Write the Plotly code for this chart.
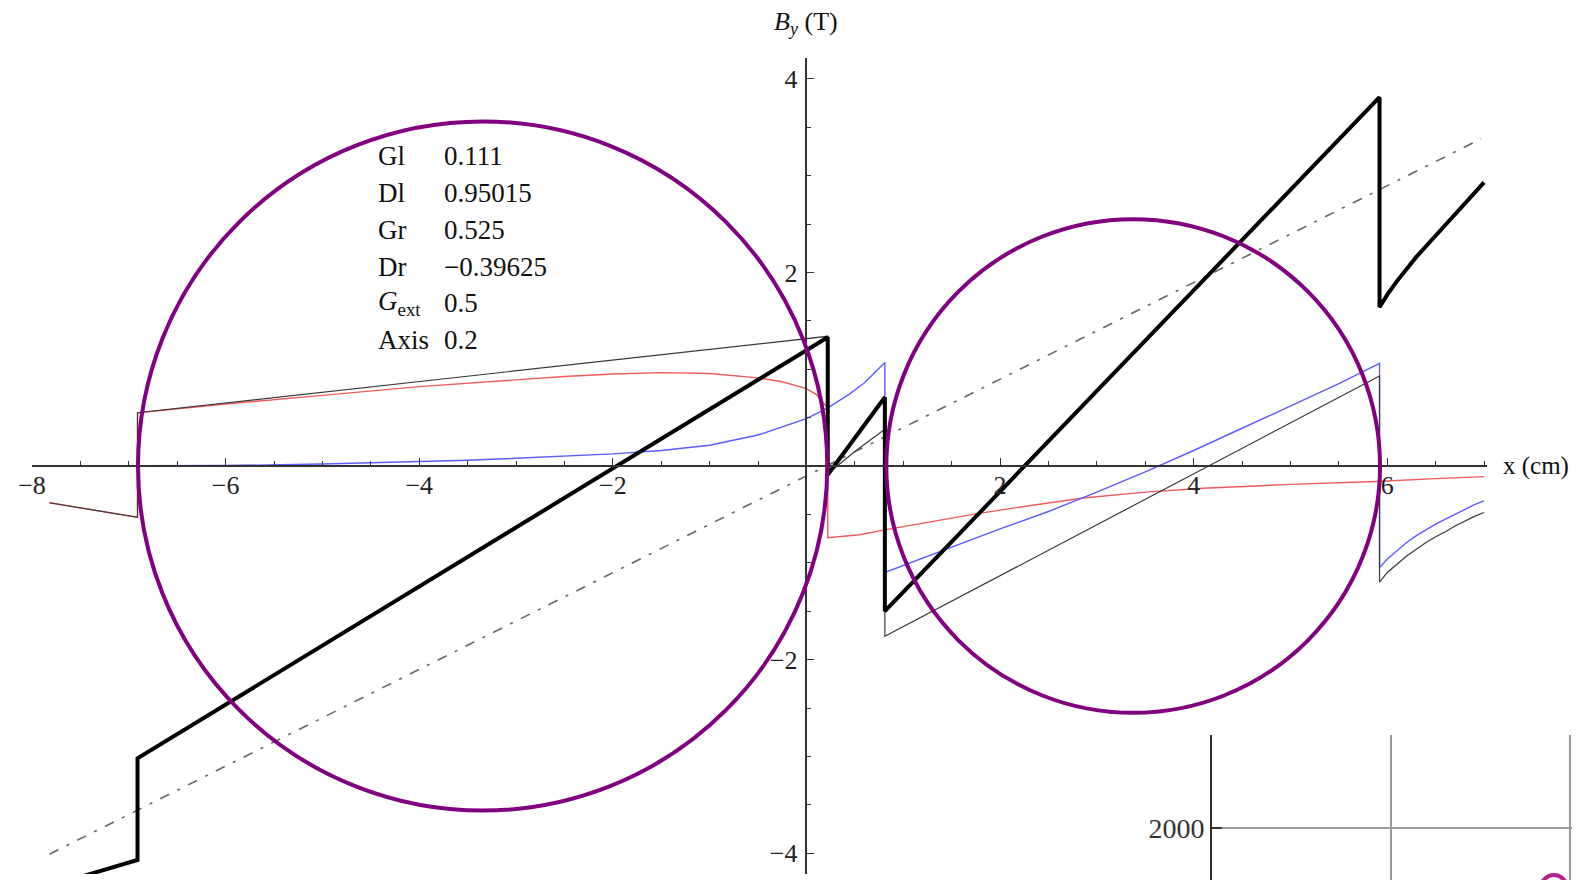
import plotly.graph_objects as go

# ---------------- data ----------------
# thick black curve: B_y total
x_thick = [-7.82, -6.91, -6.91, 0.22, 0.22, 0.81, 0.81, 5.92, 5.92,
           6.0, 6.1, 6.2, 6.3, 6.4, 6.5, 6.6, 6.7, 6.8, 6.9, 7.0]
y_thick = [-4.34, -4.07, -3.02, 1.33, -0.09, 0.71, -1.50, 3.81, 1.64,
           1.77, 1.91, 2.04, 2.16, 2.27, 2.38, 2.49, 2.60, 2.71, 2.82, 2.93]

# thin black curve
x_thin = [-7.82, -6.91, -6.91, 0.22, 0.22, 0.5, 0.81, 0.81, 5.92, 5.92,
          6.0, 6.1, 6.2, 6.3, 6.4, 6.5, 6.6, 6.7, 6.8, 6.9, 7.0]
y_thin = [-0.38, -0.53, 0.55, 1.34, -0.08, 0.15, 0.38, -1.76, 0.93, -1.20,
          -1.10, -1.01, -0.93, -0.86, -0.79, -0.73, -0.68, -0.62, -0.57, -0.52, -0.48]

# thin red curve
x_red = [-7.82, -6.91, -6.91, -6.0, -5.0, -4.0, -3.0, -2.5, -2.0, -1.5, -1.0, -0.5, -0.25, 0.0, 0.1, 0.22,
         0.22, 0.55, 0.81, 1.2, 1.72, 2.3, 2.86, 3.5, 4.1, 5.0, 5.88, 6.5, 7.0]
y_red = [-0.38, -0.53, 0.55, 0.64, 0.73, 0.82, 0.89, 0.925, 0.95, 0.965, 0.955, 0.91, 0.87, 0.80, 0.74, 0.60,
         -0.74, -0.71, -0.66, -0.59, -0.50, -0.41, -0.33, -0.27, -0.23, -0.19, -0.16, -0.13, -0.11]

# thin blue curve
x_blue = [-7.82, -7.0, -6.0, -5.0, -4.0, -3.5, -3.0, -2.5, -2.0, -1.5, -1.0, -0.5, 0.0, 0.22,
          0.44, 0.6, 0.81, 0.81, 1.5, 2.0, 2.5, 3.0, 3.5, 4.0, 4.5, 5.0, 5.5, 5.92,
          5.92, 6.0, 6.1, 6.2, 6.3, 6.4, 6.5, 6.6, 6.7, 6.8, 6.9, 7.0]
y_blue = [0.0, 0.0, 0.005, 0.02, 0.045, 0.06, 0.08, 0.10, 0.125, 0.16, 0.215, 0.32, 0.49, 0.60,
          0.74, 0.86, 1.07, -1.10, -0.84, -0.65, -0.47, -0.27, -0.06, 0.16, 0.39, 0.62, 0.85, 1.06,
          -1.05, -0.96, -0.87, -0.79, -0.72, -0.66, -0.60, -0.55, -0.50, -0.45, -0.40, -0.36]

# dash-dot external gradient line
x_ext = [-7.82, 6.97]
y_ext = [-4.01, 3.38]

# purple aperture circles
circ_cx = [-3.345, 3.375]
circ_cy = [0.0, 0.0]
circ_r = [3.56, 2.55]

# parameter table
param_names = ["Gl", "Dl", "Gr", "Dr", "<i>G</i><sub>ext</sub>", "Axis"]
param_values = ["0.111", "0.95015", "0.525", "\u22120.39625", "0.5", "0.2"]

# axis ticks
x_tickvals = [-8, -6, -4, -2, 2, 4, 6]
y_tickvals = [-4, -2, 2, 4]

# inset (second plot peeking in at the bottom right)
inset_x = [1.91]
inset_y = [1700]
inset_ytick = [2000]

# ---------------- layout geometry (page pixels; body has an 8px margin) ----------------
OFF = 8
W, H = 1580 - 2 * OFF, 880 - OFF
ML, MR, MT, MB = 32 - OFF, 0, 58 - OFF, 0
pw, ph = W - ML - MR, H - MT - MB
PX = 96.8                       # pixels per data unit (both axes)
Y0_PAGE = 466                   # page row of the data origin
RIGHT_PAGE = W + OFF
xr = [-8.0, 7.03]
yr = [(Y0_PAGE - 874) / PX, (Y0_PAGE - 58) / PX]
xdom = [0, (1487 - 32) / pw]
ydom = [(H + OFF - 874) / ph, 1]
ypos0 = xdom[0] + (0 - xr[0]) / (xr[1] - xr[0]) * (xdom[1] - xdom[0])
xpos0 = ydom[0] + (0 - yr[0]) / (yr[1] - yr[0]) * (ydom[1] - ydom[0])

# inset axes: 2000 gridline at page y=828 (0.2 px per unit); x gridlines ~179 px apart
y2_top_page, y2_bot_page = 735, H + OFF
y2r = [2000 - (y2_bot_page - 828) / 0.2, 2000 + (828 - y2_top_page) / 0.2]
x2_px = (1570 - 1212) / 2
x2r = [0, (RIGHT_PAGE - 1212) / x2_px]

FONT = "Liberation Serif"
AX = "#333333"

fig = go.Figure()
fig.add_trace(go.Scatter(x=x_ext, y=y_ext, mode="lines",
                         line=dict(color="#666666", width=1.6, dash="10px,9px,3px,9px"),
                         hoverinfo="skip"))
fig.add_trace(go.Scatter(x=x_red, y=y_red, mode="lines", line=dict(color="#f05a5a", width=1.4)))
fig.add_trace(go.Scatter(x=x_blue, y=y_blue, mode="lines", line=dict(color="#5c5cff", width=1.4)))
fig.add_trace(go.Scatter(x=x_thin, y=y_thin, mode="lines", line=dict(color="#3a3a3a", width=1.2)))
fig.add_trace(go.Scatter(x=x_thick, y=y_thick, mode="lines", line=dict(color="#000000", width=4)))

fig.add_trace(go.Scatter(x=inset_x, y=inset_y, xaxis="x2", yaxis="y2", mode="markers",
                         cliponaxis=True,
                         marker=dict(symbol="circle-open", size=26, color="#b0208f",
                                     line=dict(width=4, color="#b0208f"))))

for cx, cy, r in zip(circ_cx, circ_cy, circ_r):
    fig.add_shape(type="circle", xref="x", yref="y", x0=cx - r, x1=cx + r, y0=cy - r, y1=cy + r,
                  line=dict(color="#800080", width=4), layer="above")

row_y0, row_dy = 3.20, 0.38
for i, (n, v) in enumerate(zip(param_names, param_values)):
    yy = row_y0 - i * row_dy
    fig.add_annotation(x=-4.45, y=yy, xref="x", yref="y", text=n, showarrow=False,
                       xanchor="left", yanchor="middle", font=dict(family=FONT, size=27, color="#111"))
    fig.add_annotation(x=-3.76, y=yy, xref="x", yref="y", text=v, showarrow=False,
                       xanchor="left", yanchor="middle", font=dict(family=FONT, size=27, color="#111"))

fig.add_annotation(x=ypos0, y=1, xref="paper", yref="paper", yshift=35, text="<i>B</i><sub><i>y</i></sub> (T)",
                   showarrow=False, xanchor="center", yanchor="middle",
                   font=dict(family=FONT, size=26, color="#111"))
fig.add_annotation(x=xdom[1], y=xpos0, xref="paper", yref="paper", xshift=14, text="x (cm)",
                   showarrow=False, xanchor="left", yanchor="middle",
                   font=dict(family=FONT, size=25, color="#111"))

fig.update_layout(
    width=W, height=H, margin=dict(l=ML, r=MR, t=MT, b=MB),
    paper_bgcolor="white", plot_bgcolor="white", showlegend=False,
    font=dict(family=FONT, size=26, color="#222"),
    xaxis=dict(domain=xdom, range=xr, anchor="free", position=xpos0, showgrid=False, zeroline=False,
               showline=True, linecolor=AX, linewidth=1.6, ticks="inside", ticklen=7, tickwidth=1.4,
               tickcolor=AX, tickmode="array", tickvals=x_tickvals, ticklabelstandoff=-4,
               minor=dict(tickmode="linear", tick0=0, dtick=0.5, ticks="inside", ticklen=4,
                          tickwidth=1.2, tickcolor=AX, showgrid=False),
               tickfont=dict(family=FONT, size=26, color="#222")),
    yaxis=dict(domain=ydom, range=yr, anchor="free", position=ypos0, showgrid=False, zeroline=False,
               showline=True, linecolor=AX, linewidth=1.6, ticks="inside", ticklen=7, tickwidth=1.4,
               tickcolor=AX, tickmode="array", tickvals=y_tickvals, ticklabelstandoff=3,
               minor=dict(tickmode="linear", tick0=0, dtick=0.5, ticks="inside", ticklen=4,
                          tickwidth=1.2, tickcolor=AX, showgrid=False),
               tickfont=dict(family=FONT, size=26, color="#222")),
    xaxis2=dict(domain=[(1212 - 32) / pw, 1], range=x2r, anchor="y2",
                showgrid=True, gridcolor="#9a9a9a", gridwidth=1.6, tickmode="linear", tick0=0, dtick=1,
                showticklabels=False, ticks="", zeroline=False, showline=False),
    yaxis2=dict(domain=[0, (y2_bot_page - y2_top_page) / ph], range=y2r, anchor="x2",
                showgrid=True, gridcolor="#9a9a9a", gridwidth=1.6, tickmode="array", tickvals=inset_ytick,
                ticktext=["2000"], ticks="inside", ticklen=10, tickcolor=AX, tickwidth=1.5,
                showline=True, linecolor=AX, linewidth=2, zeroline=False,
                tickfont=dict(family=FONT, size=28, color="#333")),
)

fig.write_html("out.html")
